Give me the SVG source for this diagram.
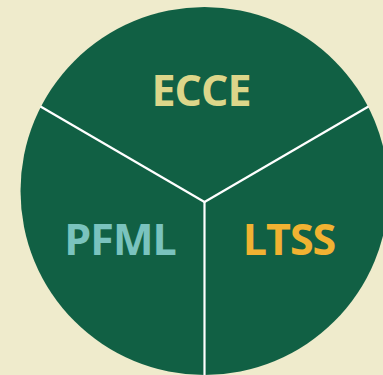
<svg xmlns="http://www.w3.org/2000/svg" width="383" height="375" viewBox="0 0 383 375">
<style>
.lbl{font-family:"Open Sans","Liberation Sans",sans-serif;font-weight:bold;font-size:43px;letter-spacing:-1px;text-anchor:middle}
.div{stroke:#ffffff;stroke-width:2.2;fill:none}
</style>
<rect width="383" height="375" fill="#efebcc"/>
<g id="circle"><circle cx="204.5" cy="191" r="184" fill="#116044"/></g>
<g id="connectors">
<line class="div" x1="204.5" y1="202" x2="40.5" y2="106.5"/>
<line class="div" x1="204.5" y1="202" x2="368.5" y2="106.5"/>
<line class="div" x1="204.5" y1="201" x2="204.5" y2="376"/>
</g>
<g id="ecce"><text class="lbl" x="201" y="106" fill="#ddd68a">ECCE</text></g>
<g id="pfml"><text class="lbl" x="120" y="255" fill="#7ac3be">PFML</text></g>
<g id="ltss"><text class="lbl" x="289" y="255" fill="#f1b232">LTSS</text></g>
</svg>
